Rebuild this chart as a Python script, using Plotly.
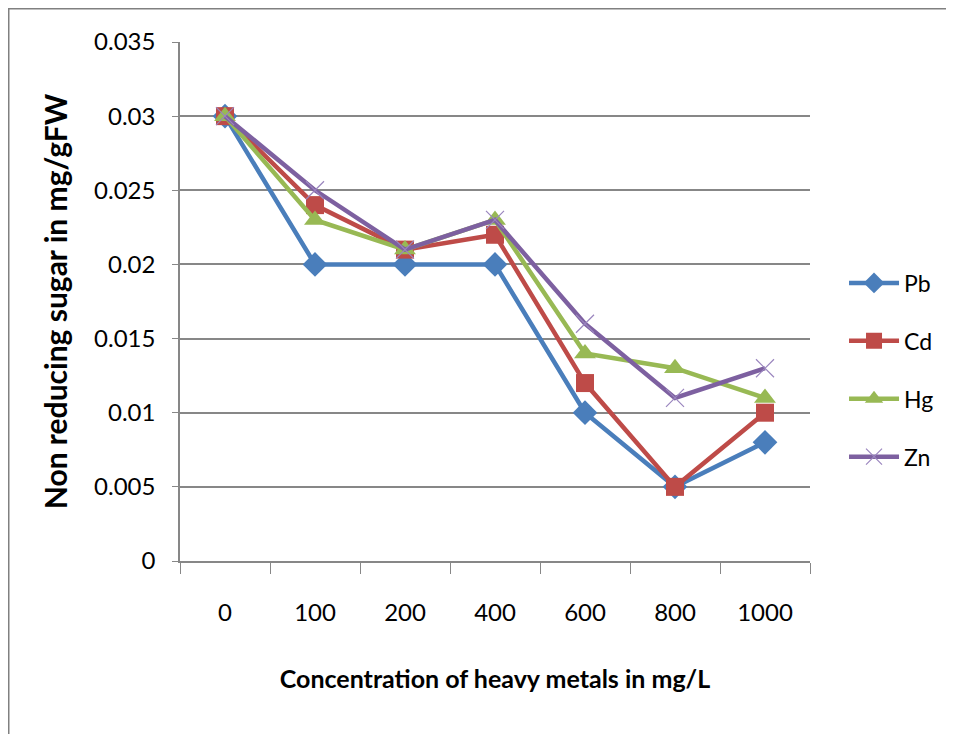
import plotly.graph_objects as go

categories = ["0", "100", "200", "400", "600", "800", "1000"]
pb = [0.030, 0.020, 0.020, 0.020, 0.010, 0.005, 0.008]
cd = [0.030, 0.024, 0.021, 0.022, 0.012, 0.005, 0.010]
hg = [0.030, 0.023, 0.021, 0.023, 0.014, 0.013, 0.011]
zn = [0.030, 0.025, 0.021, 0.023, 0.016, 0.011, 0.013]
y_ticks = [0, 0.005, 0.01, 0.015, 0.02, 0.025, 0.03, 0.035]
y_ticktext = ["0", "0.005", "0.01", "0.015", "0.02", "0.025", "0.03", "0.035"]

FONT = "Lato"

series = [
    ("Pb", pb, "#4A7EBB", "diamond", 19, None),
    ("Cd", cd, "#BE4B48", "square", 18, None),
    ("Hg", hg, "#98B954", "triangle-up", 19, None),
    ("Zn", zn, "#7D60A0", "x-thin", 18, 1.2),
]

fig = go.Figure()
for i, (name, vals, col, sym, size, lw) in enumerate(series):
    marker = dict(symbol=sym, size=size, color=col)
    if lw is not None:
        marker["line"] = dict(color="#9A85BE", width=lw)
    fig.add_trace(go.Scatter(
        x=categories, y=vals, name=name, mode="lines+markers",
        line=dict(color=col, width=4.5), marker=marker,
        legendgroup="g%d" % i,
    ))

# the page adds an 8px offset; plot area targets 180..810 x, 42..561 y on screen
fig.update_layout(
    width=954, height=734,
    margin=dict(l=172, r=152, t=34, b=181),
    paper_bgcolor="white", plot_bgcolor="white",
    font=dict(family=FONT, size=23, color="#000000"),
    showlegend=True,
    legend=dict(x=1.054, xanchor="left", y=0.368, yanchor="middle",
                traceorder="grouped", tracegroupgap=25,
                font=dict(family=FONT, size=23), itemwidth=50,
                bgcolor="rgba(0,0,0,0)"),
    xaxis=dict(
        type="category", range=[-0.5, 6.5],
        showgrid=False, showline=True, linecolor="#878787", linewidth=1.5,
        ticks="outside", tickson="boundaries", ticklen=11, tickcolor="#878787",
        tickfont=dict(family=FONT, size=24), ticklabelstandoff=29,
        title=dict(text="<b>Concentration of heavy metals in mg/L</b>",
                   font=dict(family=FONT, size=25), standoff=46),
    ),
    yaxis=dict(
        range=[0, 0.035], tickvals=y_ticks, ticktext=y_ticktext,
        showgrid=True, gridcolor="#878787", gridwidth=1.5,
        showline=True, linecolor="#878787", linewidth=1.5,
        ticks="outside", ticklen=6, tickcolor="#878787",
        tickfont=dict(family=FONT, size=24), ticklabelstandoff=12,
        title=dict(text="<b>Non reducing sugar in mg/gFW</b>",
                   font=dict(family=FONT, size=30), standoff=18),
        zeroline=False,
    ),
    shapes=[dict(type="rect", xref="paper", yref="paper",
                 x0=(0 - 172) / 630, x1=(1000 - 172) / 630,
                 y0=(553 - 800) / 519, y1=(553 + 0) / 519,
                 line=dict(color="#808080", width=3), layer="below")],
)

fig.write_html("out.html")
